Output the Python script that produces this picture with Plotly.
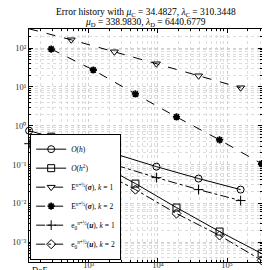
import plotly.graph_objects as go

# DoF for k=1 and k=2 meshes
dof_k1 = [137, 557, 2344, 9506, 38637, 157036]
dof_k2 = [286, 1161, 4721, 18535, 77800, 316000]

ref_h = [0.743, 0.366, 0.19, 0.0883, 0.0435, 0.0226]
ref_h2 = [0.521, 0.126, 0.0323, 0.0078, 0.00188, 0.00051]
E_sigma_k1 = [312, 163, 80, 39.3, 19.3, 9.5]
E_sigma_k2 = [94.2, 27.2, 6.56, 1.68, 0.431, 0.105]
e0_u_k1 = [0.344, 0.18, 0.0993, 0.046, 0.0226, 0.0118]
e0_u_k2 = [0.325, 0.083, 0.0226, 0.00547, 0.00149, 0.00034]

x_tickvals = [1e3, 1e4, 1e5]
x_ticktext = ["10³", "10⁴", "10⁵"]
y_tickvals = [1e-3, 1e-2, 1e-1, 1e0, 1e1, 1e2]
y_ticktext = ["10⁻³", "10⁻²", "10⁻¹", "10⁰", "10¹", "10²"]

names = [
    "<i>O</i>(<i>h</i>)",
    "<i>O</i>(<i>h</i><sup>2</sup>)",
    "E<sup><i>n</i>+½</sup>(<b><i>σ</i></b>), <i>k</i> = 1",
    "E<sup><i>n</i>+½</sup>(<b><i>σ</i></b>), <i>k</i> = 2",
    "e<sub>0</sub><sup><i>n</i>+½</sup>(<b><i>u</i></b>), <i>k</i> = 1",
    "e<sub>0</sub><sup><i>n</i>+½</sup>(<b><i>u</i></b>), <i>k</i> = 2",
]

series = [
    (dof_k1, ref_h, "circle-open", "solid"),
    (dof_k2, ref_h2, "square-open", "solid"),
    (dof_k1, E_sigma_k1, "triangle-down-open", "dash"),
    (dof_k2, E_sigma_k2, "asterisk-open", "dash"),
    (dof_k1, e0_u_k1, "cross-thin-open", "dashdot"),
    (dof_k2, e0_u_k2, "diamond-open", "dashdot"),
]

fig = go.Figure()
for (x, y, sym, dash), nm in zip(series, names):
    fig.add_trace(go.Scatter(
        x=x, y=y, name=nm, mode="lines+markers", cliponaxis=False,
        line=dict(color="black", width=1, dash=dash),
        marker=dict(symbol=sym, size=7 if sym != "asterisk-open" else 6,
                    color="black",
                    line=dict(color="black", width=1.8 if sym == "asterisk-open" else 1)),
    ))

font_family = "Liberation Serif"
axis_common = dict(
    type="log", showline=True, linecolor="black", linewidth=1, mirror="ticks",
    ticks="inside", ticklen=4, tickcolor="black", automargin=False,
    showgrid=True, gridcolor="#cfcfcf", griddash="dot", gridwidth=1,
    zeroline=False,
    tickfont=dict(size=8.5, family=font_family, color="#333"),
    minor=dict(ticks="inside", ticklen=2, tickcolor="black", dtick="D1",
               showgrid=True, gridcolor="#dcdcdc", griddash="dot", gridwidth=1),
)

fig.update_xaxes(**axis_common, range=[2.135, 5.505],
                 tickvals=x_tickvals, ticktext=x_ticktext, ticklabelstandoff=-5)
fig.update_yaxes(**axis_common, range=[-3.51, 2.49],
                 tickvals=y_tickvals, ticktext=y_ticktext)

title1 = "Error history with <i>μ</i><sub>C</sub> = 34.4827, <i>λ</i><sub>C</sub> = 310.3448"
title2 = "<i>μ</i><sub>D</sub> = 338.9830, <i>λ</i><sub>D</sub> = 6440.6779"

fig.update_layout(
    width=270, height=270,
    margin=dict(l=21, r=16, t=21, b=16),
    paper_bgcolor="white", plot_bgcolor="white",
    font=dict(family=font_family, color="black"),
    legend=dict(x=0.005, y=0.01, xanchor="left", yanchor="bottom",
                bgcolor="white", bordercolor="black", borderwidth=1,
                font=dict(size=7.5, family=font_family), itemwidth=30,
                tracegroupgap=0),
    showlegend=True,
    annotations=[
        dict(text="DoF", x=0, y=0, xref="paper", yref="paper",
             xanchor="left", yanchor="middle", yshift=-8, xshift=1,
             showarrow=False, font=dict(size=8.5, family=font_family)),
        dict(text=title1, x=0.5, y=1, xref="paper", yref="paper",
             xanchor="center", yanchor="bottom", yshift=9, showarrow=False,
             font=dict(size=9.5, family=font_family)),
        dict(text=title2, x=0.5, y=1, xref="paper", yref="paper",
             xanchor="center", yanchor="bottom", yshift=-1, showarrow=False,
             font=dict(size=9.5, family=font_family)),
    ],
)

fig.write_html("out.html")
